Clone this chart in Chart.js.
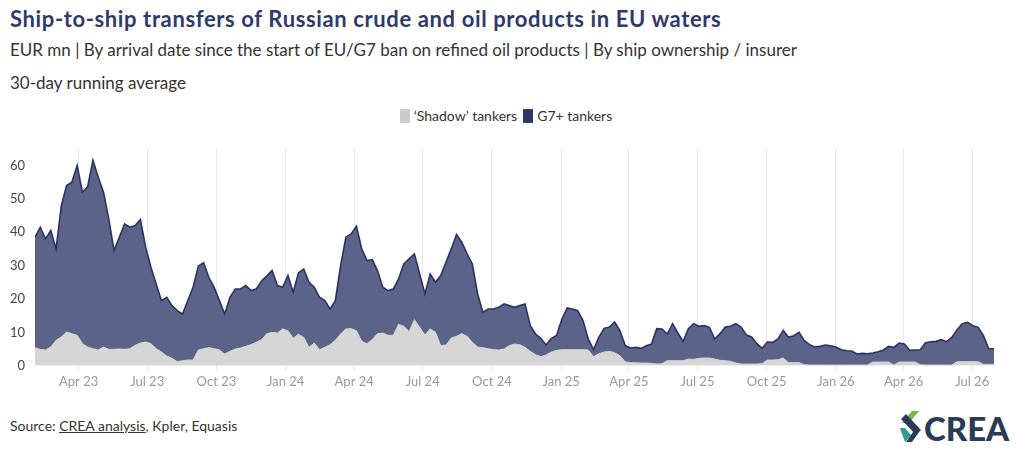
<!DOCTYPE html>
<html>
<head>
<meta charset="utf-8">
<script src="https://cdn.jsdelivr.net/npm/chart.js@4/dist/chart.umd.min.js"></script>
<style>
  html, body { margin: 0; padding: 0; background: #fff; }
  body { width: 1024px; height: 455px; position: relative; overflow: hidden; font-family: Lato, "Noto Sans", sans-serif; }
  .t { position: absolute; left: 10px; white-space: nowrap; }
  #title { top: 5px; font-size: 22px; letter-spacing: 0.62px; font-weight: 700; color: #2f3a6a; }
  #sub { top: 39px; font-size: 17px; color: #333; }
  #note { top: 72px; font-size: 17px; color: #333; }
  #legend { position: absolute; top: 107px; left: 0; width: 1024px; text-align: center; font-size: 14px; color: #333; box-sizing: border-box; padding-right: 12px; }
  #legend span.item { display: inline-flex; align-items: center; margin: 0 3px; }
  #legend span.box { display: inline-block; width: 10px; height: 14px; margin-right: 4px; }
  #wrap { position: absolute; left: 0; top: 131px; width: 1024px; height: 269px; }
  #source { top: 417px; font-size: 14px; color: #333; }
  #source u { text-decoration: underline; }
  #logo { position: absolute; left: 898px; top: 409px; }
</style>
</head>
<body>
<div class="t" id="title">Ship-to-ship transfers of Russian crude and oil products in EU waters</div>
<div class="t" id="sub">EUR mn | By arrival date since the start of EU/G7 ban on refined oil products | By ship ownership / insurer</div>
<div class="t" id="note">30-day running average</div>
<div id="legend"></div>
<div id="wrap"><canvas id="c" width="1024" height="269"></canvas></div>
<div class="t" id="source">Source: <u>CREA analysis</u>, Kpler, Equasis</div>
<svg id="logo" width="120" height="36" viewBox="0 0 120 36">
  <polygon points="14,2 21,2 11,14 4,14" fill="#6cc04a"/>
  <polygon points="3,10 8,5 23,21 18,26" fill="#2b3a57"/>
  <polygon points="2,19 7,19 13,26 7,33" fill="#2a9d8f"/>
  <polygon points="15,23 21,23 14,33 8,33" fill="#2b3a57"/>
  <text x="26" y="32" font-family="Lato, 'Noto Sans', sans-serif" font-weight="900" font-size="33" fill="#2b3a57">CREA</text>
</svg>
<script>
// ---- data (weekly samples of the 30-day running average, EUR mn) ----
const firstDate = '2023-02-02';   // first sample
const stepDays = 7;               // sampling interval of the arrays below

const seriesNames = ['\u2018Shadow\u2019 tankers', 'G7+ tankers'];

const shadowTankers = [
  5.4, 4.9, 4.7, 5.6, 7.6, 8.6, 10.1, 9.6, 9.1, 6.6,
  5.6, 5.1, 4.7, 5.6, 4.9, 4.9, 5.0, 4.9, 5.1, 6.1,
  6.8, 7.1, 6.6, 5.1, 4.1, 2.9, 2.2, 1.2, 1.5, 1.7,
  1.7, 4.7, 5.1, 5.4, 5.1, 4.7, 3.5, 4.3, 5.0, 5.3,
  5.8, 6.3, 7.0, 7.8, 9.6, 10.0, 9.8, 11.0, 10.5, 8.2,
  9.4, 8.5, 5.5, 6.8, 4.8, 5.5, 6.3, 7.6, 9.5, 11.0,
  11.1, 10.5, 7.3, 6.6, 7.8, 9.6, 9.8, 9.1, 9.1, 12.4,
  11.8, 10.2, 13.8, 11.5, 9.2, 11.0, 10.0, 6.0, 6.2, 8.3,
  8.8, 9.6, 8.8, 7.0, 5.6, 5.4, 5.1, 4.8, 4.7, 5.0,
  6.0, 6.5, 6.3, 5.5, 4.3, 3.3, 2.7, 3.2, 4.1, 4.6,
  4.8, 4.8, 4.8, 4.8, 4.8, 4.7, 2.7, 3.6, 4.1, 4.3,
  3.9, 3.0, 1.2, 0.9, 0.9, 0.8, 0.8, 0.7, 0.5, 0.6,
  1.5, 1.5, 1.5, 1.5, 2.0, 1.9, 2.2, 2.3, 2.3, 2.0,
  1.6, 1.5, 1.3, 0.8, 0.5, 0.5, 0.5, 0.5, 0.6, 1.7,
  1.7, 1.8, 2.3, 0.9, 0.9, 0.9, 0.3, 0.2, 0.2, 0.2,
  0.2, 0.2, 0.2, 0.2, 0.2, 0.2, 0.2, 0.2, 0.2, 1.1,
  1.1, 1.1, 1.1, 0.2, 1.1, 1.1, 1.1, 1.1, 0.3, 0.2,
  0.2, 0.2, 0.2, 0.2, 0.2, 1.2, 1.2, 1.2, 1.2, 1.2,
  0.4, 0.4, 0.4
];

const g7Tankers = [
  33.1, 36.6, 33.3, 34.9, 27.4, 39.4, 43.9, 45.4, 50.9, 45.4,
  48.1, 56.5, 51.8, 46.4, 39.1, 29.6, 33.5, 37.6, 36.4, 35.9,
  37.0, 28.4, 22.9, 19.4, 15.4, 17.6, 15.8, 15.3, 14.0, 17.8,
  21.8, 25.2, 25.8, 21.0, 18.4, 14.8, 12.0, 16.2, 18.0, 17.7,
  18.2, 16.2, 16.0, 17.6, 17.3, 18.5, 14.2, 12.5, 16.5, 13.8,
  18.4, 20.5, 19.5, 16.7, 15.7, 14.0, 10.7, 11.9, 20.5, 27.5,
  28.4, 31.3, 27.7, 24.9, 24.0, 18.9, 13.7, 13.4, 13.9, 13.6,
  18.7, 21.8, 19.7, 16.0, 12.3, 16.5, 15.0, 21.0, 24.8, 26.7,
  30.5, 27.4, 24.7, 23.5, 15.9, 10.6, 11.9, 12.2, 12.8, 13.5,
  12.0, 11.0, 11.7, 13.0, 7.7, 6.2, 5.5, 3.0, 4.1, 4.5,
  9.2, 12.5, 12.2, 11.7, 8.7, 3.3, 2.1, 4.9, 7.1, 7.3,
  9.2, 7.5, 4.9, 4.4, 4.6, 4.4, 5.2, 5.8, 10.6, 10.4,
  8.0, 11.1, 8.3, 5.8, 9.1, 10.7, 9.6, 9.7, 9.2, 6.0,
  8.0, 10.1, 10.5, 11.8, 11.1, 8.7, 8.1, 6.1, 4.6, 5.4,
  5.3, 6.2, 8.3, 7.6, 8.1, 9.1, 7.2, 6.1, 5.4, 5.6,
  6.0, 5.8, 5.4, 4.6, 4.3, 4.2, 3.3, 3.5, 3.4, 2.7,
  3.1, 3.6, 4.7, 5.3, 5.7, 5.4, 3.5, 3.6, 4.5, 6.7,
  7.0, 7.1, 7.6, 7.0, 8.3, 9.6, 11.4, 11.8, 10.8, 10.3,
  8.6, 4.7, 4.7
];

const tickDates  = ['2023-04-01','2023-07-01','2023-10-01','2024-01-01','2024-04-01','2024-07-01','2024-10-01',
                    '2025-01-01','2025-04-01','2025-07-01','2025-10-01','2026-01-01','2026-04-01','2026-07-01'];
const tickLabels = ['Apr 23','Jul 23','Oct 23','Jan 24','Apr 24','Jul 24','Oct 24',
                    'Jan 25','Apr 25','Jul 25','Oct 25','Jan 26','Apr 26','Jul 26'];
const yTicks = [0, 10, 20, 30, 40, 50, 60];

// ---- styles ----
const COL_SHADOW = '#d6d6d6', COL_SHADOW_LINE = '#cfcfcf', COL_SHADOW_KEY = '#cccccc';
const COL_G7 = '#5b6488', COL_G7_LINE = '#2a3363', COL_G7_KEY = '#2f3a6a';

const EPOCH = Date.parse('2023-01-01T00:00:00Z');
function dayNum(iso) { return Math.round((Date.parse(iso + 'T00:00:00Z') - EPOCH) / 86400000); }
const x0 = dayNum(firstDate);
const xDays = shadowTankers.map((_, i) => x0 + i * stepDays);

// legend (HTML)
const legend = document.getElementById('legend');
[[seriesNames[0], COL_SHADOW_KEY], [seriesNames[1], COL_G7_KEY]].forEach(([name, col]) => {
  const it = document.createElement('span'); it.className = 'item';
  const b = document.createElement('span'); b.className = 'box'; b.style.background = col;
  it.appendChild(b); it.appendChild(document.createTextNode(name));
  legend.appendChild(it);
});

const labelMap = {};
tickDates.forEach((d, i) => { labelMap[dayNum(d)] = tickLabels[i]; });

new Chart(document.getElementById('c'), {
  type: 'line',
  data: {
    datasets: [
      {
        label: seriesNames[0],
        data: xDays.map((x, i) => ({ x, y: shadowTankers[i] })),
        backgroundColor: COL_SHADOW, borderColor: COL_SHADOW_LINE, borderWidth: 1,
        fill: 'origin', pointRadius: 0, tension: 0
      },
      {
        label: seriesNames[1],
        data: xDays.map((x, i) => ({ x, y: g7Tankers[i] })),
        backgroundColor: COL_G7, borderColor: COL_G7_LINE, borderWidth: 1.6,
        fill: '-1', pointRadius: 0, tension: 0
      }
    ]
  },
  options: {
    responsive: false, animation: false, devicePixelRatio: 1,
    layout: { padding: { left: 0, right: 30, top: 0, bottom: 0 } },
    plugins: { legend: { display: false }, tooltip: { enabled: false } },
    scales: {
      x: {
        type: 'linear', min: xDays[0], max: xDays[xDays.length - 1],
        grid: { display: true, color: '#e8e8e8', lineWidth: 1, drawTicks: true, tickLength: 5 },
        border: { display: false },
        afterBuildTicks: (s) => { s.ticks = tickDates.map(d => ({ value: dayNum(d) })); },
        afterFit: (s) => { s.height = 34.3; },
        ticks: {
          autoSkip: false, maxRotation: 0, padding: 3,
          color: '#999', font: { family: 'Lato', size: 13 },
          callback: (v) => labelMap[v] || ''
        }
      },
      y: {
        stacked: true, min: 0, max: 65,
        grid: { display: false, drawTicks: false },
        border: { display: false },
        afterBuildTicks: (s) => { s.ticks = yTicks.map(v => ({ value: v })); },
        afterFit: (s) => { s.width = 35; },
        ticks: { padding: 10, color: '#444', font: { family: 'Lato', size: 13 } }
      }
    }
  }
});
</script>
</body>
</html>
